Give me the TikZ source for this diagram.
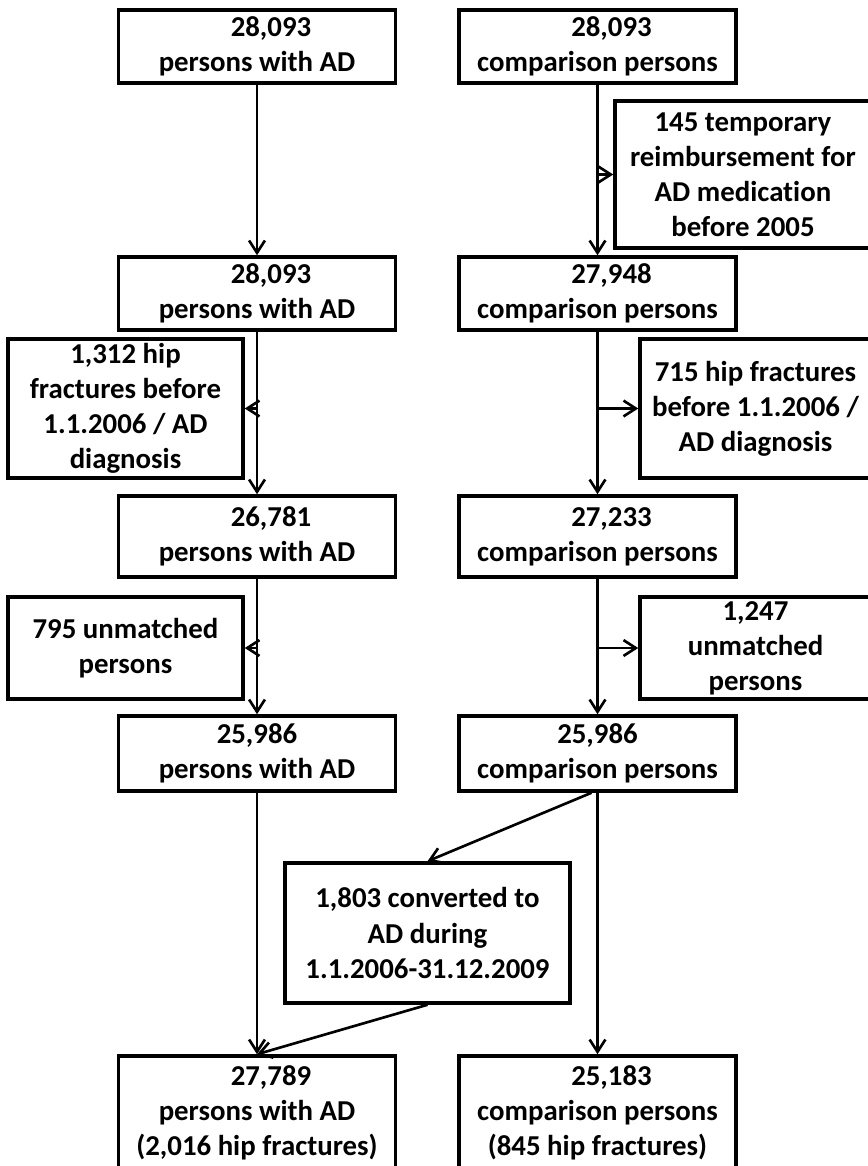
\documentclass[tikz,border=0pt]{standalone}
\usepackage{fontspec}
\setmainfont[Ligatures=NoCommon]{Carlito}
\usetikzlibrary{arrows.meta}

% spazio iniziale prima dei numeri (come nell'originale)
\newcommand{\numsh}{\hspace*{0.56cm}}

\begin{document}
\begin{tikzpicture}[line width=1.5pt, >={Straight Barb[length=7pt,width=9pt]},
    font=\bfseries\fontsize{16.4}{20}\selectfont,
    box/.style={draw, line width=2pt, align=center, inner sep=0pt,
                minimum width=5.54cm, minimum height=1.46cm},
    sidebox/.style={box, minimum width=4.70cm}]

        \useasboundingbox (0,0) rectangle (17.34,-23.32);

        % ==========================================
        % 1. COLONNA SINISTRA: PERSONE CON AD
        % ==========================================
        \node[box] (a1) at (5.14,-0.93) {\numsh 28,093\\persons with AD};
        \node[box] (a2) at (5.14,-5.87) {\numsh 28,093\\persons with AD};
        \node[box, minimum height=1.62cm] (a3) at (5.14,-10.73) {\numsh 26,781\\persons with AD};
        \node[box, minimum height=1.50cm] (a4) at (5.14,-15.07) {25,986\\persons with AD};
        \node[box, minimum height=2.28cm] (a5) at (5.14,-22.26)
            {\numsh 27,789\\persons with AD\\(2,016 hip fractures)};

        % Esclusioni a sinistra
        \node[sidebox, minimum height=2.78cm] (l3) at (2.51,-8.17)
            {1,312 hip\\fractures before\\1.1.2006 / AD\\diagnosis};
        \node[sidebox, minimum height=2.04cm] (l4) at (2.51,-12.96)
            {795 unmatched\\persons};

        % ==========================================
        % 2. COLONNA DESTRA: PERSONE DI CONFRONTO
        % ==========================================
        \node[box] (b1) at (11.95,-0.93) {\numsh 28,093\\comparison persons};
        \node[box] (b2) at (11.95,-5.87) {\numsh 27,948\\comparison persons};
        \node[box, minimum height=1.62cm] (b3) at (11.95,-10.73) {\numsh 27,233\\comparison persons};
        \node[box, minimum height=1.50cm] (b4) at (11.95,-15.07) {25,986\\comparison persons};
        \node[box, minimum height=2.28cm] (b5) at (11.95,-22.26)
            {\numsh 25,183\\comparison persons\\(845 hip fractures)};

        % Esclusioni a destra (bordo destro fuori pagina)
        \node[box, minimum width=5.12cm, minimum height=2.94cm] (r1) at (14.86,-3.49)
            {145 temporary\\reimbursement for\\AD medication\\before 2005};
        \node[sidebox, minimum width=4.62cm, minimum height=2.78cm] (r3) at (15.11,-8.17)
            {715 hip fractures\\before 1.1.2006 /\\AD diagnosis};
        \node[sidebox, minimum width=4.62cm, minimum height=2.04cm] (r4) at (15.11,-12.96)
            {1,247\\unmatched\\persons};

        % Convertiti ad AD
        \node[box, minimum width=5.70cm, minimum height=2.80cm] (conv) at (8.55,-18.66)
            {1,803 converted to\\AD during\\1.1.2006-31.12.2009};

        % ==========================================
        % 3. FRECCE
        % ==========================================
        \draw[->] (a1) -- (a2);
        \draw[->] (a2) -- (a3);
        \draw[->] (a3) -- (a4);
        \draw[->] (a4) -- (a5);
        \draw[->] (l3.east -| a2.south) -- (l3.east);
        \draw[->] (l4.east -| a3.south) -- (l4.east);

        \draw[->] (b1) -- (b2);
        \draw[->] (b2) -- (b3);
        \draw[->] (b3) -- (b4);
        \draw[->] (b4) -- (b5);
        \draw[->] (r1.west -| b1.south) -- (r1.west);
        \draw[->] (r3.west -| b2.south) -- (r3.west);
        \draw[->] (r4.west -| b3.south) -- (r4.west);

        % Freccia a zig-zag attraverso i convertiti
        \draw[->] ([xshift=-0.12cm]b4.south) -- (conv.north);
        \draw[->] (conv.south) -- (a5.north);

\end{tikzpicture}
\end{document}
